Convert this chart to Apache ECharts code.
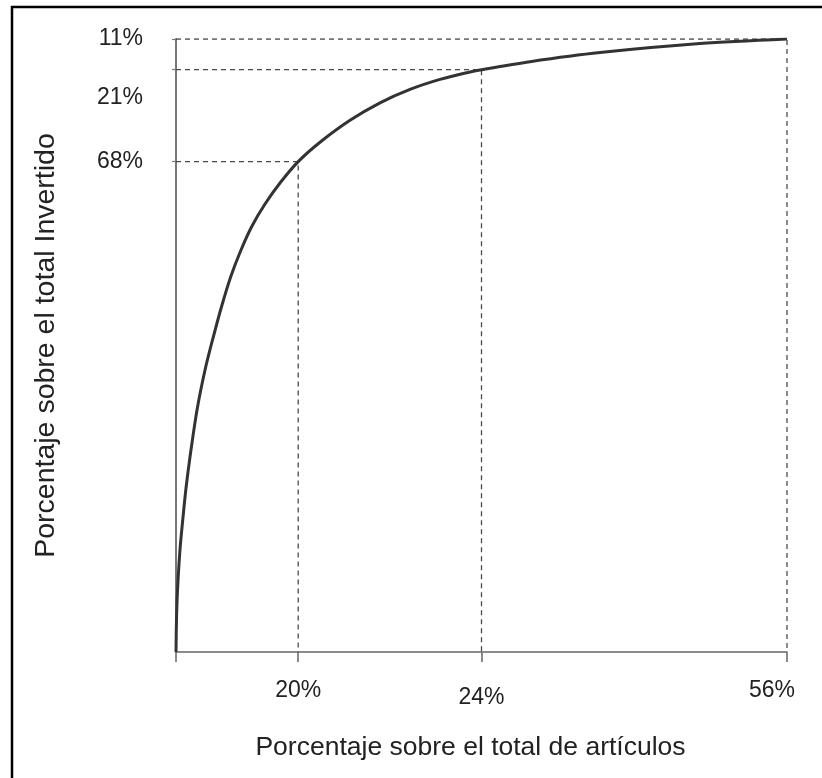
<!DOCTYPE html>
<html>
<head>
<meta charset="utf-8">
<script src="https://cdn.jsdelivr.net/npm/echarts@6/dist/echarts.min.js"></script>
<style>
html,body{margin:0;padding:0;background:#fff;}
#chart{width:822px;height:778px;}
</style>
</head>
<body>
<div id="chart"></div>
<script>
// Cumulative curve (x: % of articles on axis scale, y: % of investment on axis scale)
const curveX = [0, 0.08, 0.25, 0.65, 1.15, 1.64, 2.29, 3.44, 4.75, 6.06, 7.53, 9.0, 10.64, 12.44, 14.57, 17.02, 20,
  23.57, 28.48, 33.39, 38.30, 43.21, 48.12, 50, 57.94, 69.39, 85.76, 100];
const curveY = [0, 5.22, 10.11, 16.64, 22.02, 26.75, 31.81, 39.48, 46.0, 51.22, 56.61, 61.34, 65.58, 69.49, 73.08, 76.51, 80,
  83.16, 86.74, 89.59, 91.78, 93.41, 94.62, 95, 96.30, 97.78, 99.25, 100];
// Reference (class boundary) points
const refX = [20, 50, 100];
const refY = [80, 95, 100];
// Tick labels as printed
const xTickLabels = ['20%', '24%', '56%'];
const yTickLabels = ['68%', '21%', '11%'];
const yLabelPos = [80, 90.5, 100];
const xTitle = 'Porcentaje sobre el total de artículos';
const yTitle = 'Porcentaje sobre el total Invertido';

const FONT = 'Liberation Sans, Arial, sans-serif';
const chart = echarts.init(document.getElementById('chart'));

const curveData = curveX.map((x, i) => [x, curveY[i]]);
const refSeries = refX.map((x, i) => ({
  type: 'line',
  data: [[0, refY[i]], [x, refY[i]], [x, 0]],
  symbol: 'none',
  silent: true,
  lineStyle: { color: '#4a4a4a', width: 1.3, type: [5, 4] },
  z: 1
}));

const option = {
  animation: false,
  backgroundColor: '#fff',
  grid: { left: 176, right: 35, top: 39, bottom: 126 },
  xAxis: {
    type: 'value', min: 0, max: 100,
    splitLine: { show: false },
    axisLine: { lineStyle: { color: '#666', width: 1.5 } },
    axisTick: { show: true, length: 10, customValues: [0].concat(refX), lineStyle: { color: '#666', width: 1.5 } },
    axisLabel: {
      customValues: refX,
      margin: 27,
      formatter: function (v) {
        const i = refX.indexOf(v);
        const t = xTickLabels[i];
        if (i === 1) return '{low|' + t + '}';
        if (i === 2) return '{end|' + t + '}';
        return t;
      },
      color: '#222', fontFamily: FONT, fontSize: 23,
      rich: {
        low: { padding: [7, 0, 0, 0], color: '#222', fontFamily: FONT, fontSize: 23 },
        end: { padding: [0, 30, 0, 0], color: '#222', fontFamily: FONT, fontSize: 23 }
      }
    },
    name: xTitle, nameLocation: 'middle', nameGap: 82,
    nameTextStyle: { color: '#222', fontFamily: FONT, fontSize: 26.5, padding: [0, 22, 0, 0] }
  },
  yAxis: {
    type: 'value', min: 0, max: 100,
    splitLine: { show: false },
    axisLine: { lineStyle: { color: '#777', width: 2 } },
    axisTick: { show: true, length: 4, customValues: refY, lineStyle: { color: '#777', width: 1.2 } },
    axisLabel: {
      customValues: yLabelPos,
      margin: 33,
      formatter: function (v) { return yTickLabels[yLabelPos.indexOf(v)]; },
      color: '#222', fontFamily: FONT, fontSize: 23
    },
    name: yTitle, nameLocation: 'middle', nameGap: 115,
    nameTextStyle: { color: '#222', fontFamily: FONT, fontSize: 28.5 }
  },
  graphic: [{
    type: 'polyline',
    shape: { points: [[12, 778], [12, 7], [822, 7]] },
    style: { stroke: '#000', lineWidth: 2.5, fill: null }
  }],
  series: refSeries.concat([{
    type: 'line',
    data: curveData,
    smooth: 0.3,
    symbol: 'none',
    lineStyle: { color: '#333', width: 3 },
    z: 3
  }])
};
chart.setOption(option);
</script>
</body>
</html>
